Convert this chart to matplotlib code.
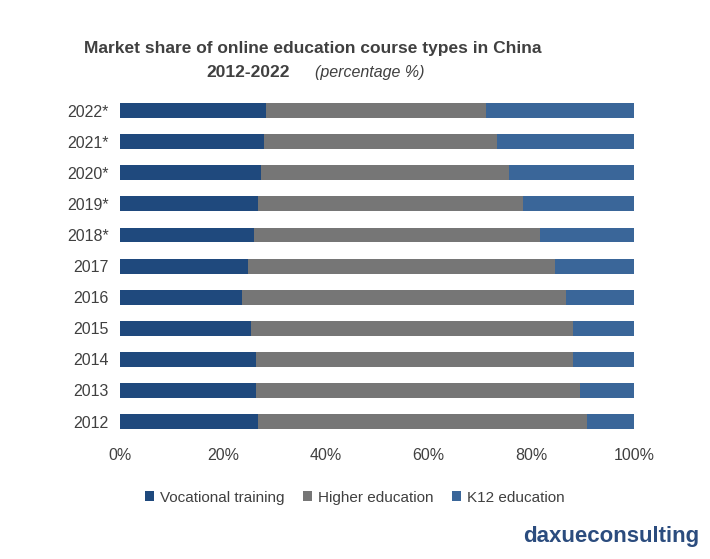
import matplotlib.pyplot as plt
import numpy as np

plt.rcParams["font.family"] = ["Liberation Sans", "DejaVu Sans"]

years = ["2012", "2013", "2014", "2015", "2016", "2017",
         "2018*", "2019*", "2020*", "2021*", "2022*"]
vocational = [26.8, 26.5, 26.5, 25.5, 23.7, 24.9, 26.1, 26.8, 27.4, 28.0, 28.4]
higher_end = [90.9, 89.5, 88.1, 88.1, 86.8, 84.6, 81.7, 78.4, 75.7, 73.3, 71.2]
higher = [h - v for h, v in zip(higher_end, vocational)]
k12 = [100 - h for h in higher_end]

COLOURS = ["#1F497D", "#767676", "#3A6699"]

fig = plt.figure(figsize=(7.1, 5.59), dpi=100)
ax = fig.add_axes([0.169, 0.218, 0.724, 0.612])
y = np.arange(len(years))
ax.barh(y, vocational, height=0.48, color=COLOURS[0], label="Vocational training")
ax.barh(y, higher, left=vocational, height=0.48, color=COLOURS[1], label="Higher education")
ax.barh(y, k12, left=higher_end, height=0.48, color=COLOURS[2], label="K12 education")

ax.set_xlim(0, 100)
ax.set_ylim(-0.5, len(years) - 0.5)
ax.set_yticks(y, years)
ax.set_xticks(range(0, 101, 20), [f"{v}%" for v in range(0, 101, 20)])
ax.tick_params(length=0, labelsize=11.5, colors="#404040")
ax.tick_params(axis="y", pad=8)
ax.tick_params(axis="x", pad=8)
for s in ax.spines.values():
    s.set_visible(False)

fig.text(0.44, 0.905, "Market share of online education course types in China",
         ha="center", fontsize=12.5, fontweight="bold", color="#404040")
fig.text(0.29, 0.862, "2012-2022", ha="left", fontsize=12.5,
         fontweight="bold", color="#404040")
fig.text(0.444, 0.862, "(percentage %)", ha="left", fontsize=11.5,
         style="italic", color="#404040")

fig.legend(loc="center", bbox_to_anchor=(0.5, 0.11), ncol=3, frameon=False,
           fontsize=11, handlelength=0.6, handleheight=0.6, columnspacing=1.2,
           handletextpad=0.4, labelcolor="#404040")

fig.text(0.985, 0.03, "daxueconsulting", ha="right", fontsize=16,
         fontweight="bold", color="#2B4C7E")
fig.savefig("out.png", dpi=100)
